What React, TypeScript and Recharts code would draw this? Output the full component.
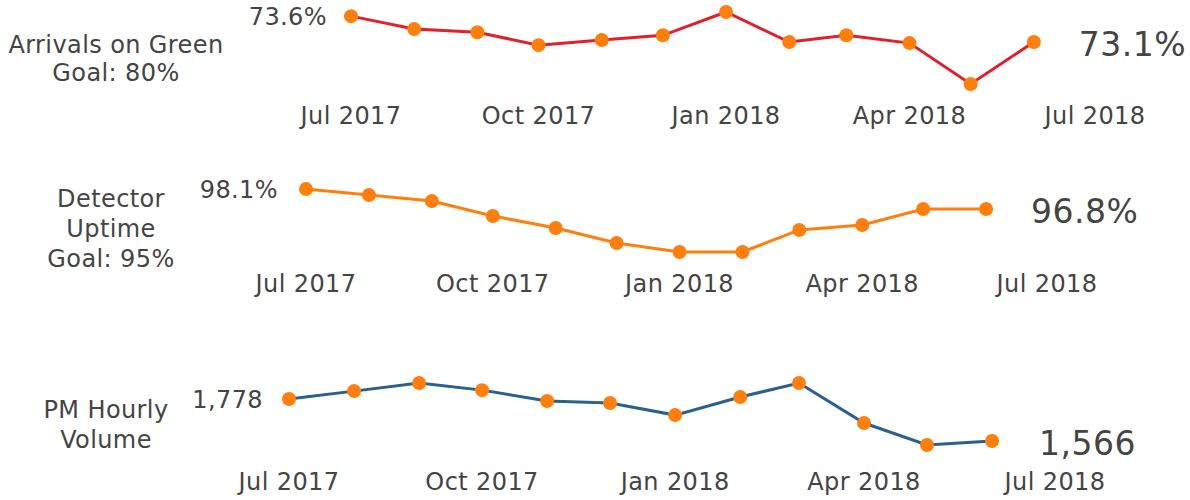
import React from 'react'
import { LineChart, Line, XAxis, YAxis } from 'recharts'

const months = [
  '2017-07-01', '2017-08-01', '2017-09-01', '2017-10-01', '2017-11-01', '2017-12-01',
  '2018-01-01', '2018-02-01', '2018-03-01', '2018-04-01', '2018-05-01', '2018-06-01',
]
const tickMonths = ['2017-07-01', '2017-10-01', '2018-01-01', '2018-04-01', '2018-07-01']
const monthNames = ['Jan', 'Feb', 'Mar', 'Apr', 'May', 'Jun', 'Jul', 'Aug', 'Sep', 'Oct', 'Nov', 'Dec']

const arrivalsOnGreen = [73.6, 73.35, 73.29, 73.04, 73.14, 73.23, 73.68, 73.1, 73.23, 73.08, 72.29, 73.1]
const detectorUptime = [98.1, 97.71, 97.32, 96.35, 95.57, 94.59, 94.01, 94.01, 95.44, 95.76, 96.8, 96.8]
const pmHourlyVolume = [1778, 1818, 1859, 1823, 1768, 1758, 1697, 1788, 1859, 1657, 1546, 1566]

const FONT = '"DejaVu Sans", Verdana, sans-serif'
const TEXT = '#444'
const DOT = '#ff7f0e'
const FS = 24
const LS = 0.4

const toTime = (s: string) => {
  const [y, m, d] = s.split('-').map(Number)
  return Date.UTC(y, m - 1, d)
}
const ticks = tickMonths.map(toTime)
const domain = [ticks[0], ticks[ticks.length - 1]]
const fmtTick = (t: number) => {
  const d = new Date(t)
  return `${monthNames[d.getUTCMonth()]} ${d.getUTCFullYear()}`
}
const pct = (v: number) => `${v.toFixed(1)}%`
const num = (v: number) => Math.round(v).toLocaleString('en-US')

interface PanelProps {
  values: number[]
  color: string
  fmt: (v: number) => string
  top: number
  height: number
  left: number
  right: number
  plotTop: number
  plotHeight: number
  tickOffset: number
  firstGap: number
  lastGap: number
  labelLines: string[]
  labelCenter: number
  labelTop: number
  lineHeight: number
}

function Panel(p: PanelProps) {
  const data = months.map((m, i) => ({ t: toTime(m), v: p.values[i] }))
  const last = data.length - 1
  const bottom = p.height - p.plotTop - p.plotHeight - 40

  const renderDot = (d: any) => {
    const { cx, cy, index, value } = d
    return (
      <g key={`dot-${index}`}>
        <circle cx={cx} cy={cy} r={7} fill={DOT} />
        {index === 0 && (
          <text x={cx - p.firstGap} y={cy + 1} textAnchor="end" dominantBaseline="central"
            fontSize={FS} letterSpacing={LS} fontFamily={FONT} fill={TEXT}>{p.fmt(value)}</text>
        )}
        {index === last && (
          <text x={cx + p.lastGap} y={cy + 2} textAnchor="start" dominantBaseline="central"
            fontSize={33} letterSpacing={0.5} fontFamily={FONT} fill={TEXT}>{p.fmt(value)}</text>
        )}
      </g>
    )
  }

  const renderTick = (t: any) => (
    <text x={t.x} y={t.y + p.tickOffset} textAnchor="middle" fontSize={FS} letterSpacing={LS}
      fontFamily={FONT} fill={TEXT}>{fmtTick(t.payload.value)}</text>
  )

  return (
    <div style={{ position: 'absolute', left: 0, top: p.top, width: 1190, height: p.height }}>
      <div style={{
        position: 'absolute', left: 0, top: p.labelTop - p.top, width: p.labelCenter * 2,
        textAlign: 'center', fontFamily: FONT, fontSize: FS, letterSpacing: LS,
        lineHeight: `${p.lineHeight}px`, color: TEXT,
      }}>
        {p.labelLines.map((l) => <div key={l}>{l}</div>)}
      </div>
      <LineChart width={1190} height={p.height} data={data}
        margin={{ top: p.plotTop, right: 1190 - p.right, left: p.left, bottom }}
        style={{ position: 'absolute', left: 0, top: 0 }}>
        <XAxis dataKey="t" type="number" scale="linear" domain={domain} ticks={ticks}
          axisLine={false} tickLine={false} tickSize={0} tickMargin={0} height={40}
          tick={renderTick} interval={0} />
        <YAxis hide domain={['dataMin', 'dataMax']} />
        <Line dataKey="v" type="linear" stroke={p.color} strokeWidth={3}
          dot={renderDot} activeDot={false} isAnimationActive={false} />
      </LineChart>
    </div>
  )
}

export default function App() {
  return (
    <div style={{ position: 'absolute', left: 0, top: 0, width: 1190, height: 500, background: '#fff' }}>
      <Panel values={arrivalsOnGreen} color="#e0202a" fmt={pct}
        top={0} height={140} left={351} right={1095} plotTop={12} plotHeight={72} tickOffset={40}
        firstGap={24} lastGap={45} labelLines={['Arrivals on Green', 'Goal: 80%']}
        labelCenter={116} labelTop={31} lineHeight={28} />
      <Panel values={detectorUptime} color={DOT} fmt={pct}
        top={160} height={150} left={306} right={1047} plotTop={29} plotHeight={63} tickOffset={40}
        firstGap={28} lastGap={45} labelLines={['Detector', 'Uptime', 'Goal: 95%']}
        labelCenter={111} labelTop={184} lineHeight={30} />
      <Panel values={pmHourlyVolume} color="#2b5f8e" fmt={num}
        top={360} height={140} left={289} right={1055} plotTop={23} plotHeight={62} tickOffset={45}
        firstGap={26} lastGap={47} labelLines={['PM Hourly', 'Volume']}
        labelCenter={106} labelTop={395} lineHeight={30} />
    </div>
  )
}
